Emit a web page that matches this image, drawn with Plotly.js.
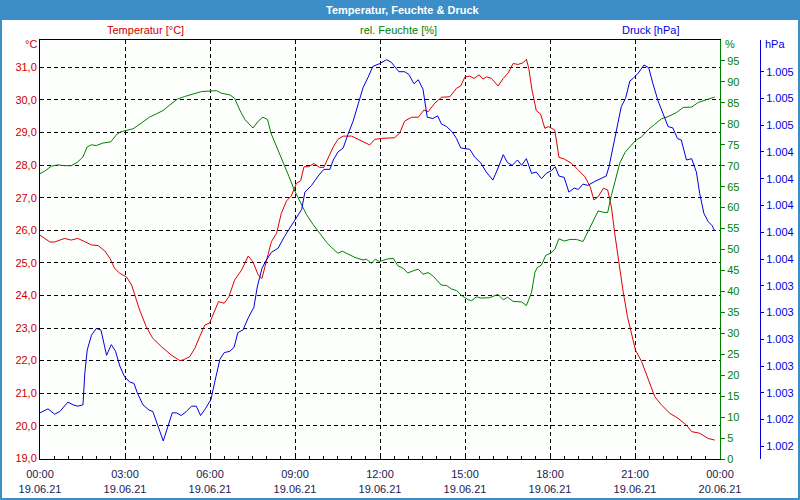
<!DOCTYPE html>
<html>
<head>
<meta charset="utf-8">
<script src="https://cdn.plot.ly/plotly-3.0.1.min.js"></script>
<style>html,body{margin:0;padding:0;background:#fff;}#chart{width:800px;height:500px;}</style>
</head>
<body>
<div id="chart"></div>
<script>
// minutes since 19.06.21 00:00
const tTemp = [0,21,31,52,66,80,95,109,123,137,148,158,169,183,194,201,211,225,239,257,278,296,303,317,328,338,349,359,369,378,390,400,412,427,441,451,462,470,480,490,501,511,522,532,543,552,559,569,580,592,601,611,621,631,642,660,677,698,709,723,751,762,772,787,801,813,822,836,850,868,882,891,900,910,919,930,938,945,956,970,981,991,1002,1012,1023,1030,1035,1042,1051,1060,1069,1077,1090,1099,1111,1126,1140,1154,1165,1173,1182,1193,1202,1210,1217,1226,1235,1244,1253,1261,1274,1288,1302,1316,1334,1351,1369,1380,1397,1415,1429];
const temp = [25.85,25.64,25.64,25.75,25.70,25.75,25.65,25.55,25.53,25.37,25.14,24.83,24.68,24.57,24.32,24.01,23.55,23.04,22.68,22.43,22.17,22.00,22.02,22.12,22.38,22.73,23.09,23.15,23.50,23.81,23.76,23.96,24.47,24.78,25.21,25.03,24.63,24.52,25.09,25.65,25.91,26.52,26.90,27.05,27.44,27.52,27.95,27.95,28.05,27.93,27.93,28.24,28.56,28.79,28.89,28.89,28.77,28.62,28.79,28.82,28.84,28.99,29.35,29.47,29.47,29.69,29.64,29.90,30.08,30.10,30.36,30.43,30.71,30.73,30.66,30.77,30.64,30.71,30.66,30.43,30.66,30.82,31.12,31.09,31.14,31.25,30.97,30.30,29.67,29.57,29.13,29.18,29.08,28.24,28.18,28.05,27.85,27.64,27.34,26.93,27.03,27.29,27.24,26.72,25.91,24.99,24.11,23.35,22.84,22.32,21.97,21.40,20.89,20.64,20.38,20.23,20.02,19.82,19.77,19.61,19.56];

const tHum = [0,10,24,38,52,66,79,91,100,109,119,133,150,162,171,183,197,215,232,247,261,275,291,306,324,342,374,384,402,412,423,434,451,462,472,482,489,501,515,527,538,550,564,578,592,607,621,631,640,652,667,684,691,702,710,719,734,748,758,769,779,790,801,811,822,833,850,861,871,882,893,907,914,924,935,952,970,981,990,1002,1020,1030,1041,1048,1053,1062,1071,1081,1090,1099,1110,1122,1136,1150,1160,1171,1182,1192,1202,1210,1219,1228,1239,1251,1261,1274,1288,1302,1316,1330,1348,1362,1380,1394,1411,1429];
const hum = [68.1,68.7,69.9,70.2,70.0,70.0,70.8,72.1,74.5,75.0,74.8,75.4,75.7,77.4,78.1,78.4,78.8,80.2,81.6,82.4,83.2,84.5,85.9,86.5,87.1,87.7,87.9,87.3,86.9,86.1,83.3,81.0,79.0,80.6,81.6,81.0,77.8,74.6,71.1,67.5,64.3,61.6,58.4,56.0,54.0,51.7,50.1,49.1,49.6,48.9,48.1,47.5,47.7,46.7,47.7,47.1,47.7,47.9,46.1,45.5,44.4,44.9,45.3,44.1,44.5,43.6,41.5,41.4,40.6,40.2,39.0,38.0,37.8,38.7,38.4,38.5,39.3,38.0,38.6,37.6,37.5,36.6,39.8,44.5,45.7,46.3,48.6,49.1,50.0,52.6,52.0,52.4,52.4,51.9,54.2,56.8,59.2,58.9,58.8,62.9,67.1,70.7,73.2,74.8,76.0,76.9,78.6,79.9,81.2,81.7,82.7,83.9,84.0,85.1,85.7,86.4];

const tPres = [0,17,31,42,59,70,80,91,95,100,109,119,129,135,141,151,160,169,179,190,199,206,218,231,239,250,261,271,280,289,299,310,321,331,340,350,362,370,381,390,402,411,419,430,441,453,460,470,479,490,504,518,532,546,554,561,575,589,601,614,621,631,642,652,663,674,684,695,705,719,734,744,760,772,781,792,801,811,816,820,832,842,850,861,873,882,891,910,921,933,945,959,970,981,990,1000,1011,1020,1030,1041,1051,1062,1072,1083,1091,1099,1110,1120,1131,1140,1150,1160,1175,1189,1199,1205,1214,1223,1231,1240,1249,1256,1267,1279,1289,1298,1309,1319,1330,1340,1350,1358,1369,1380,1390,1397,1406,1415,1423,1429];
const pres = [1002.45,1002.48,1002.44,1002.46,1002.53,1002.51,1002.50,1002.51,1002.75,1002.92,1003.03,1003.08,1003.07,1002.97,1002.88,1002.96,1002.91,1002.80,1002.72,1002.68,1002.67,1002.60,1002.51,1002.47,1002.46,1002.35,1002.24,1002.35,1002.45,1002.45,1002.43,1002.46,1002.50,1002.50,1002.43,1002.48,1002.55,1002.68,1002.85,1002.90,1002.91,1002.94,1003.05,1003.07,1003.16,1003.24,1003.39,1003.53,1003.59,1003.65,1003.68,1003.77,1003.85,1003.92,1003.97,1004.10,1004.15,1004.22,1004.27,1004.27,1004.34,1004.40,1004.43,1004.53,1004.63,1004.76,1004.88,1004.96,1005.04,1005.06,1005.09,1005.07,1005.00,1005.00,1004.98,1004.91,1004.94,1004.87,1004.74,1004.66,1004.65,1004.67,1004.61,1004.59,1004.55,1004.50,1004.43,1004.42,1004.36,1004.32,1004.25,1004.19,1004.28,1004.38,1004.32,1004.30,1004.34,1004.30,1004.35,1004.24,1004.25,1004.20,1004.24,1004.26,1004.29,1004.22,1004.21,1004.10,1004.13,1004.12,1004.16,1004.15,1004.18,1004.20,1004.22,1004.29,1004.44,1004.59,1004.74,1004.80,1004.93,1004.95,1004.99,1005.05,1005.03,1004.91,1004.78,1004.69,1004.59,1004.58,1004.50,1004.49,1004.34,1004.35,1004.25,1004.09,1003.94,1003.88,1003.85,1003.81];

const tempTicks = [19,20,21,22,23,24,25,26,27,28,29,30,31];
const humTicks = [0,5,10,15,20,25,30,35,40,45,50,55,60,65,70,75,80,85,90,95];
const presTicks = [1002.2,1002.4,1002.6,1002.8,1003.0,1003.2,1003.4,1003.6,1003.8,1004.0,1004.2,1004.4,1004.6,1004.8,1005.0];

const chartTitle = 'Temperatur, Feuchte & Druck';
const tempTitle = 'Temperatur [°C]';
const humTitle = 'rel. Feuchte [%]';
const presTitle = 'Druck [hPa]';

function toDate(m) {
  const d = new Date(Date.UTC(2021, 5, 19, 0, m));
  return d.toISOString().replace('T', ' ').slice(0, 19);
}

const RED = '#dd0000', GREEN = '#008000', BLUE = '#0000dd', BAR = '#3b8ec8';
const FONT = 'Liberation Sans, Arial, sans-serif';

// pixel helpers for paper coords (margins l=40,r=40,t=40,b=41)
const PW = 720, PH = 419;
const xp = px => (px - 40) / PW;
const yp = py => (459 - py) / PH;

const traces = [
  {x: tTemp.map(toDate), y: temp, type: 'scatter', mode: 'lines', line: {color: RED, width: 1}, yaxis: 'y', hoverinfo: 'skip'},
  {x: tHum.map(toDate), y: hum, type: 'scatter', mode: 'lines', line: {color: GREEN, width: 1}, yaxis: 'y2', hoverinfo: 'skip'},
  {x: tPres.map(toDate), y: pres, type: 'scatter', mode: 'lines', line: {color: BLUE, width: 1}, yaxis: 'y3', hoverinfo: 'skip'}
];

const layout = {
  width: 800, height: 500,
  margin: {l: 40, r: 40, t: 40, b: 41, pad: 0},
  showlegend: false,
  paper_bgcolor: '#ffffff',
  plot_bgcolor: '#fdfffd',
  separators: ',.',
  font: {family: FONT, size: 11},
  xaxis: {
    type: 'date',
    domain: [0, 680 / 720],
    range: ['2021-06-19 00:00:00', '2021-06-20 00:00:00'],
    tick0: '2021-06-19 00:00:00', dtick: 3 * 3600000,
    tickformat: '%H:%M<br>%d.%m.%y',
    tickfont: {color: '#1a1a55', size: 11, family: FONT},
    ticklabelstandoff: 5,
    showgrid: true, gridcolor: '#000000', griddash: '4px,3px', gridwidth: 1,
    showline: true, linecolor: '#000000', linewidth: 1, mirror: true,
    ticks: 'inside', ticklen: 4, tickcolor: '#000000',
    minor: {dtick: 30 * 60000, ticks: 'inside', ticklen: 3, tickcolor: '#000000', showgrid: false},
    zeroline: false, fixedrange: true
  },
  yaxis: {
    range: [18.98, 31.84],
    tickmode: 'array', tickvals: tempTicks, tickformat: '.1f',
    tickfont: {color: '#cc0000', size: 11, family: FONT},
    showgrid: true, gridcolor: '#000000', griddash: '4px,3px', gridwidth: 1,
    showline: true, linecolor: '#000000', linewidth: 1,
    ticks: '', zeroline: false, fixedrange: true
  },
  yaxis2: {
    overlaying: 'y', side: 'right', anchor: 'x',
    range: [0, 100],
    tickmode: 'array', tickvals: humTicks,
    tickfont: {color: GREEN, size: 11, family: FONT},
    showgrid: false, showline: true, linecolor: GREEN, linewidth: 1,
    ticks: 'outside', ticklen: 4, tickcolor: GREEN,
    zeroline: false, fixedrange: true
  },
  yaxis3: {
    overlaying: 'y', side: 'right', anchor: 'free', position: 1,
    range: [1002.105, 1005.237],
    tickmode: 'array', tickvals: presTicks, tickformat: ',.0f',
    tickfont: {color: BLUE, size: 11, family: FONT},
    showgrid: false, showline: true, linecolor: BLUE, linewidth: 1,
    ticks: 'outside', ticklen: 3, tickcolor: BLUE,
    zeroline: false, fixedrange: true
  },
  shapes: [
    {type: 'rect', xref: 'paper', yref: 'paper', x0: xp(0), x1: xp(800), y0: yp(20), y1: yp(0), fillcolor: BAR, line: {width: 0}, layer: 'above'},
    {type: 'rect', xref: 'paper', yref: 'paper', x0: xp(0), x1: xp(2), y0: yp(500), y1: yp(0), fillcolor: BAR, line: {width: 0}, layer: 'above'},
    {type: 'rect', xref: 'paper', yref: 'paper', x0: xp(798), x1: xp(800), y0: yp(500), y1: yp(0), fillcolor: BAR, line: {width: 0}, layer: 'above'},
    {type: 'rect', xref: 'paper', yref: 'paper', x0: xp(0), x1: xp(800), y0: yp(500), y1: yp(498), fillcolor: BAR, line: {width: 0}, layer: 'above'}
  ],
  annotations: [
    {text: '<b>' + chartTitle + '</b>', xref: 'paper', yref: 'paper', x: xp(402), y: yp(10), xanchor: 'center', yanchor: 'middle', showarrow: false, font: {color: '#ffffff', size: 11, family: FONT}},
    {text: tempTitle, xref: 'paper', yref: 'paper', x: xp(145), y: yp(30), xanchor: 'center', yanchor: 'middle', showarrow: false, font: {color: '#cc0000', size: 11, family: FONT}},
    {text: humTitle, xref: 'paper', yref: 'paper', x: xp(398), y: yp(30), xanchor: 'center', yanchor: 'middle', showarrow: false, font: {color: GREEN, size: 11, family: FONT}},
    {text: presTitle, xref: 'paper', yref: 'paper', x: xp(650), y: yp(30), xanchor: 'center', yanchor: 'middle', showarrow: false, font: {color: BLUE, size: 11, family: FONT}},
    {text: '°C', xref: 'paper', yref: 'paper', x: xp(39), y: yp(44), xanchor: 'right', yanchor: 'middle', showarrow: false, font: {color: '#cc0000', size: 11, family: FONT}},
    {text: '%', xref: 'paper', yref: 'paper', x: xp(723), y: yp(44), xanchor: 'left', yanchor: 'middle', showarrow: false, font: {color: GREEN, size: 11, family: FONT}},
    {text: 'hPa', xref: 'paper', yref: 'paper', x: xp(763), y: yp(44), xanchor: 'left', yanchor: 'middle', showarrow: false, font: {color: BLUE, size: 11, family: FONT}}
  ]
};

Plotly.newPlot('chart', traces, layout, {displayModeBar: false, staticPlot: true});
</script>
</body>
</html>
